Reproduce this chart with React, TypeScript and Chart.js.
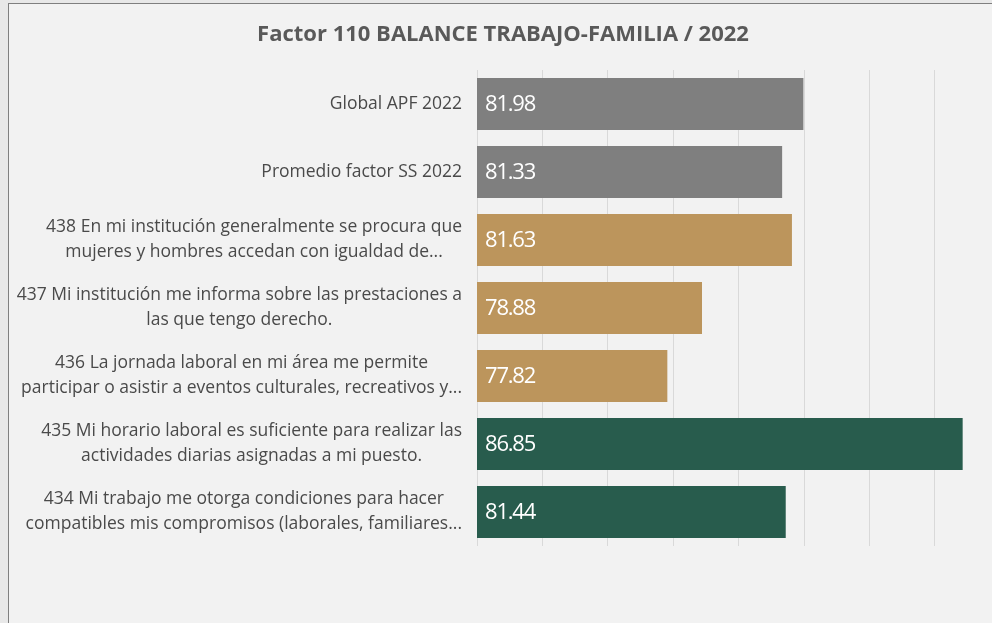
import React, { useEffect, useRef } from "react";
import { Chart, registerables } from "chart.js";

Chart.register(...registerables);

const TITLE = "Factor 110 BALANCE TRABAJO-FAMILIA / 2022";

const categories: string[][] = [
  ["Global APF 2022"],
  ["Promedio factor SS 2022"],
  ["438 En mi institución generalmente se procura que", "mujeres y hombres accedan con igualdad de..."],
  ["437 Mi institución me informa sobre las prestaciones a", "las que tengo derecho."],
  ["436 La jornada laboral en mi área me permite", "participar o asistir a eventos culturales, recreativos y..."],
  ["435 Mi horario laboral es suficiente para realizar las", "actividades diarias asignadas a mi puesto."],
  ["434 Mi trabajo me otorga condiciones para hacer", "compatibles mis compromisos (laborales, familiares..."],
];

const values: number[] = [81.98, 81.33, 81.63, 78.88, 77.82, 86.85, 81.44];

const barColors: string[] = ["#7f7f7f", "#7f7f7f", "#bc955c", "#bc955c", "#bc955c", "#285c4d", "#285c4d"];

const AXIS_MIN = 72;
const AXIS_MAX = 87.9;
const FONT = "'Open Sans', 'DejaVu Sans', sans-serif";

const labelPlugin = {
  id: "customLabels",
  afterDraw(chart: any) {
    const ctx = chart.ctx;
    const yScale = chart.scales.y;
    const xScale = chart.scales.x;
    const meta = chart.getDatasetMeta(0);
    ctx.save();
    // title
    ctx.font = `bold 22px ${FONT}`;
    ctx.fillStyle = "#595959";
    ctx.textAlign = "center";
    ctx.textBaseline = "middle";
    ctx.fillText(TITLE, chart.width / 2, 31);
    // category labels
    ctx.font = `17.5px ${FONT}`;
    ctx.fillStyle = "#4a4a4a";
    ctx.textBaseline = "middle";
    ctx.textAlign = "center";
    const rightEdge = chart.chartArea.left - 15;
    const lineH = 25;
    categories.forEach((lines, i) => {
      const cy = yScale.getPixelForValue(i);
      let maxW = 0;
      lines.forEach((l) => {
        maxW = Math.max(maxW, ctx.measureText(l).width);
      });
      const cx = rightEdge - maxW / 2;
      const startY = cy - ((lines.length - 1) * lineH) / 2;
      lines.forEach((l, j) => {
        ctx.fillText(l, cx, startY + j * lineH);
      });
    });
    // value labels
    ctx.font = `22px ${FONT}`;
    (ctx as any).letterSpacing = "-1.2px";
    ctx.fillStyle = "#ffffff";
    ctx.textAlign = "left";
    meta.data.forEach((bar: any, i: number) => {
      const x0 = xScale.getPixelForValue(AXIS_MIN);
      ctx.fillText(values[i].toFixed(2), x0 + 8, bar.y + 1);
    });
    (ctx as any).letterSpacing = "0px";
    ctx.restore();
  },
};

export default function App() {
  const canvasRef = useRef<HTMLCanvasElement | null>(null);

  useEffect(() => {
    document.body.style.margin = "0";
    document.body.style.overflow = "hidden";
    const canvas = canvasRef.current;
    if (!canvas) return;
    const chart = new Chart(canvas, {
      type: "bar",
      data: {
        labels: categories.map((c) => c.join(" ")),
        datasets: [
          {
            data: values,
            backgroundColor: barColors,
            borderWidth: 0,
            barPercentage: 0.765,
            categoryPercentage: 1,
          },
        ],
      },
      options: {
        indexAxis: "y",
        animation: false,
        responsive: false,
        maintainAspectRatio: false,
        layout: { padding: { left: 468, right: 0, top: 66, bottom: 94 } },
        plugins: {
          legend: { display: false },
          tooltip: { enabled: false },
          title: { display: false },
        },
        scales: {
          x: {
            min: AXIS_MIN,
            max: AXIS_MAX,
            ticks: { display: false, stepSize: 2 },
            grid: { color: "#d9d9d9", lineWidth: 1, drawTicks: false },
            border: { display: false },
          },
          y: {
            display: false,
            grid: { display: false },
          },
        },
      },
      plugins: [labelPlugin],
    });
    return () => chart.destroy();
  }, []);

  return (
    <div
      style={{
        position: "fixed",
        left: 0,
        top: 0,
        width: 992,
        height: 623,
        overflow: "hidden",
        background: "#e8e8e8",
      }}
    >
      <div
        style={{
          position: "absolute",
          left: 8,
          top: 3,
          width: 990,
          height: 640,
          border: "1px solid #7f7f7f",
          boxSizing: "border-box",
          background: "#f2f2f2",
        }}
      >
        <canvas
          ref={canvasRef}
          width={988}
          height={636}
          style={{ display: "block", width: 988, height: 636 }}
        />
      </div>
    </div>
  );
}
